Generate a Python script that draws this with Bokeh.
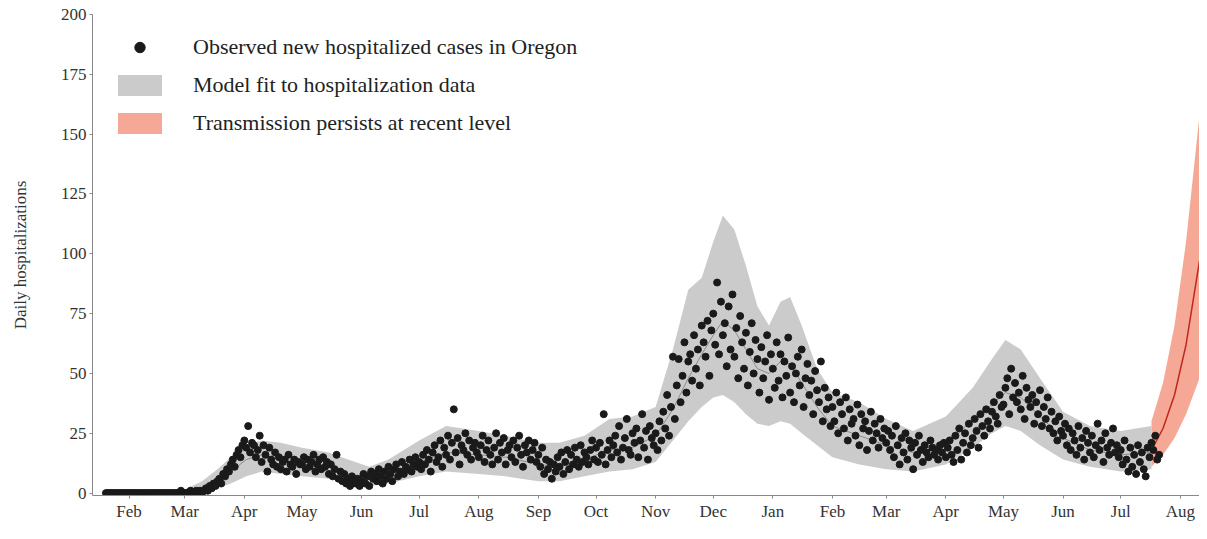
import numpy as np
import pandas as pd
from bokeh.plotting import figure
from bokeh.models import DatetimeTickFormatter, MonthsTicker, FixedTicker, Range1d, Legend, LegendItem
from bokeh.embed import file_html
from bokeh.resources import INLINE

FONT = "Liberation Serif"

# observed daily hospitalizations, starting 2020-01-20
obs_start = "2020-01-20"
obs_text = """
0 0 0 0 0 0 0 0 0 0 0 0
0 0 0 0 0 0 0 0 0 0 0 0 0 0 0 0 0 0 0 0 0 0 0 0 0 0 0 1 0
0 0 0 1 0 0 1 0 1 0 1 2 1 3 2 4 3 5 6 4 8 7 10 9 12 14 11 16 18 15 20
22 19 28 17 21 20 15 18 24 13 20 16 9 19 14 12 17 11 15 10 13 14 9 16 12 11 14 8 13 12
12 15 10 14 11 13 16 9 12 14 10 15 11 13 8 12 7 10 16 6 9 5 8 4 6 3 7 5 4 6 3
5 8 4 7 3 9 6 8 5 10 7 4 9 6 11 8 5 10 12 7 9 13 8 11 10 14 9 12 15 11
13 10 16 12 18 14 9 17 20 13 15 22 11 19 16 24 14 21 35 17 23 12 20 18 25 16 22 14 19 21 17
15 20 24 13 18 22 16 12 19 25 14 21 17 23 12 18 20 15 22 13 19 24 16 11 20 17 22 14 18 21 13
16 11 19 8 14 10 13 6 12 9 15 11 17 8 13 18 10 16 12 19 14 11 20 13 17 15 12 18 22 14
19 13 21 16 33 12 18 22 15 20 24 17 28 14 19 23 31 18 16 25 21 27 15 22 33 19 26 14 28 23 20
25 18 30 22 34 27 41 24 36 57 31 45 56 38 49 63 42 55 58 47 66 52 60 45 70 63 57 72 49 68
75 62 88 58 80 66 71 53 78 60 83 57 69 48 74 63 52 67 45 59 71 50 64 56 42 61 48 55 66 39 58
52 44 63 47 58 40 55 49 65 42 53 38 50 57 45 60 36 48 54 41 47 33 51 43 38 55 30 44 35 40 28
36 30 42 25 38 33 27 40 22 35 29 31 24 37 20 33 27 30 18 26 34 22 29 25 19 31 23 27
21 26 18 24 15 28 20 12 23 17 25 14 22 19 10 21 16 24 18 13 20 17 15 22 19 16 18 14 20 17 21
15 19 22 16 13 24 18 27 14 21 25 17 29 20 23 31 26 19 33 28 24 35 30 27 34 38 32 29 41 36
37 44 48 33 52 40 46 38 42 35 49 31 44 39 36 41 29 38 33 43 28 36 31 40 27 34 25 30 22 32 26
24 29 20 27 18 25 22 16 28 19 23 14 26 21 17 24 15 20 29 18 22 13 25 19 16 21 27 17 20 15
18 12 22 14 9 19 11 16 8 20 13 17 10 7 19 15 21 18 24 14 16
"""
obs_values = [int(v) for v in obs_text.split()]

# model fit band
fit_dates = ["2020-01-20", "2020-03-01", "2020-03-10", "2020-03-18", "2020-03-25", "2020-04-02",
             "2020-04-10", "2020-04-20", "2020-05-01", "2020-05-15", "2020-05-25", "2020-06-05",
             "2020-06-15", "2020-07-01", "2020-07-15", "2020-08-01", "2020-08-15", "2020-09-01",
             "2020-09-12", "2020-09-25", "2020-10-08", "2020-10-20", "2020-11-01", "2020-11-10",
             "2020-11-18", "2020-11-25", "2020-12-01", "2020-12-06", "2020-12-12", "2020-12-18",
             "2020-12-24", "2020-12-30", "2021-01-05", "2021-01-10", "2021-01-16", "2021-01-24",
             "2021-02-01", "2021-02-15", "2021-03-01", "2021-03-15", "2021-04-01", "2021-04-15",
             "2021-04-25", "2021-05-02", "2021-05-10", "2021-05-20", "2021-06-01", "2021-06-15",
             "2021-07-01", "2021-07-17"]
fit_lo = [0, 0, 0.5, 2, 4, 7, 9, 8, 7, 6, 4, 3, 4, 7, 9, 8, 7, 5, 5, 7, 9, 10, 13, 22,
          30, 36, 40, 41, 38, 33, 29, 28, 30, 29, 25, 20, 15, 12, 10, 9, 12, 19, 25, 28, 26, 20,
          14, 11, 9, 10]
fit_mid = [0, 0.5, 2, 5, 9, 14, 16, 14, 12, 11, 8, 6, 8, 13, 17, 16, 15, 12, 11, 14, 18, 19, 24, 35,
           48, 58, 66, 72, 68, 60, 52, 50, 55, 54, 46, 36, 28, 24, 20, 17, 22, 30, 37, 42, 40, 32,
           23, 18, 16, 17]
fit_hi = [0.5, 1.5, 5, 10, 15, 20, 22, 21, 19, 17, 14, 11, 14, 22, 28, 26, 24, 21, 21, 24, 31, 32, 36, 60,
          85, 90, 105, 116, 110, 95, 78, 70, 80, 82, 70, 52, 42, 38, 31, 26, 32, 44, 56, 64, 60, 48,
          34, 28, 26, 28]

# projection: transmission persists at recent level
proj_dates = ["2021-07-17", "2021-07-23", "2021-07-29", "2021-08-04", "2021-08-11"]
proj_lo = [11, 16, 23, 33, 48]
proj_mid = [18, 27, 41, 62, 97]
proj_hi = [30, 46, 70, 105, 158]

obs_x = pd.date_range(obs_start, periods=len(obs_values), freq="D")
fit_x = pd.to_datetime(fit_dates)
proj_x = pd.to_datetime(proj_dates)

p = figure(width=1199, height=523, x_axis_type="datetime", output_backend="svg",
           toolbar_location=None, x_range=Range1d(pd.Timestamp("2020-01-13"), pd.Timestamp("2021-08-11")),
           y_range=Range1d(-1, 200), min_border_left=92, min_border_top=14, min_border_right=0,
           min_border_bottom=0)
p.outline_line_color = None
p.grid.visible = False

band = p.varea(x=fit_x, y1=fit_lo, y2=fit_hi, fill_color="#c8c8c8", fill_alpha=0.95)
p.line(x=fit_x, y=fit_mid, line_color="#8a8a8a", line_width=1)
pband = p.varea(x=proj_x, y1=proj_lo, y2=proj_hi, fill_color="#f5a391", fill_alpha=0.95)
p.line(x=proj_x, y=proj_mid, line_color="#c0281c", line_width=1.5)
dots = p.scatter(x=obs_x, y=obs_values, size=7, fill_color="#1a1a1a", line_color="#1a1a1a")

p.xaxis.ticker = MonthsTicker(months=list(range(12)))
p.xaxis.formatter = DatetimeTickFormatter(months="%b", days="%b")
p.yaxis.ticker = FixedTicker(ticks=[0, 25, 50, 75, 100, 125, 150, 175, 200])
p.yaxis.axis_label = "Daily hospitalizations"
for ax in (p.xaxis, p.yaxis):
    ax.major_label_text_font = FONT
    ax.major_label_text_font_size = "17px"
    ax.major_label_text_color = "#333333"
    ax.axis_line_color = "#888888"
    ax.major_tick_line_color = "#888888"
    ax.major_tick_in = 0
    ax.major_tick_out = 3
    ax.minor_tick_line_color = None
    ax.major_label_standoff = 3
p.yaxis.axis_label_text_font = FONT
p.yaxis.axis_label_text_font_style = "normal"
p.yaxis.axis_label_text_font_size = "17px"
p.yaxis.axis_label_text_color = "#333333"
p.yaxis.axis_label_standoff = 28

legend = Legend(items=[
    LegendItem(label="Observed new hospitalized cases in Oregon", renderers=[dots]),
    LegendItem(label="Model fit to hospitalization data", renderers=[band]),
    LegendItem(label="Transmission persists at recent level", renderers=[pband]),
], location="top_left")
legend.border_line_color = None
legend.background_fill_alpha = 0
legend.label_text_font = FONT
legend.label_text_font_size = "22px"
legend.label_text_color = "#222222"
legend.glyph_width = 55
legend.glyph_height = 26
legend.spacing = 12
legend.margin = 20
legend.padding = 17
legend.label_standoff = 26
p.add_layout(legend)

open("out.html", "w").write(file_html(p, INLINE))
